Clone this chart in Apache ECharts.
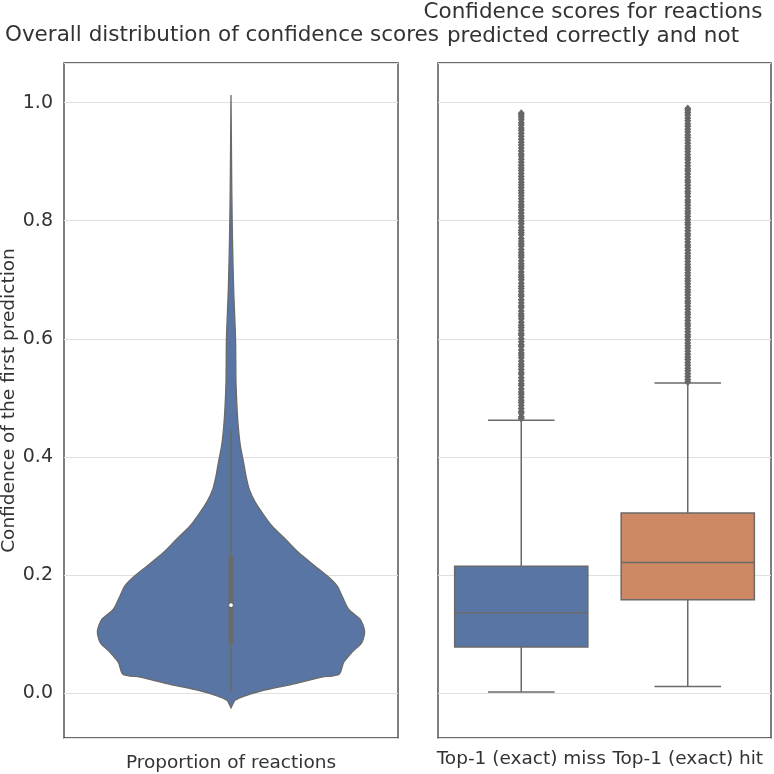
<!DOCTYPE html>
<html><head><meta charset="utf-8">
<script src="https://cdn.jsdelivr.net/npm/echarts@6/dist/echarts.min.js"></script>
<style>html,body{margin:0;padding:0;background:#fff}#c{width:774px;height:774px}</style>
</head><body><div id="c"></div>
<script>
const yTicks = [0, 0.2, 0.4, 0.6, 0.8, 1.0];
const violinValues  = [-0.025,-0.018,-0.012,-0.0045,0.004,0.015,0.027,0.032,0.052,0.069,0.086,0.105,0.125,0.142,0.165,0.182,0.199,0.215,0.238,0.261,0.283,0.306,0.323,0.345,0.368,0.39,0.419,0.447,0.475,0.503,0.53,0.6,0.684,0.768,0.85,0.93,1.013];
const violinDensity = [0,0.015,0.03,0.105,0.23,0.456,0.68,0.81,0.843,0.905,0.98,1.0,0.967,0.88,0.83,0.793,0.718,0.63,0.506,0.406,0.307,0.232,0.182,0.137,0.112,0.095,0.07,0.056,0.047,0.041,0.037,0.034,0.02,0.011,0.006,0.003,0];
const violinStats = [0.001, 0.083, 0.149, 0.233, 0.447];
const boxCategories = ['Top-1 (exact) miss', 'Top-1 (exact) hit'];
const boxMiss = [0.002, 0.078, 0.136, 0.215, 0.462];
const boxHit  = [0.011, 0.158, 0.221, 0.305, 0.525];
const missOutliers = [0.465,0.468,0.474,0.477,0.482,0.487,0.492,0.496,0.501,0.506,0.51,0.515,0.521,0.524,0.529,0.534,0.54,0.543,0.548,0.553,0.557,0.562,0.568,0.572,0.576,0.581,0.587,0.59,0.595,0.6,0.606,0.609,0.614,0.619,0.623,0.628,0.634,0.638,0.642,0.647,0.653,0.656,0.661,0.666,0.672,0.675,0.68,0.685,0.689,0.694,0.7,0.704,0.708,0.713,0.719,0.723,0.727,0.732,0.738,0.742,0.746,0.751,0.757,0.761,0.765,0.77,0.776,0.78,0.784,0.789,0.795,0.799,0.804,0.808,0.813,0.818,0.823,0.827,0.832,0.837,0.842,0.847,0.851,0.856,0.861,0.865,0.87,0.875,0.88,0.885,0.889,0.894,0.899,0.904,0.909,0.913,0.918,0.923,0.928,0.933,0.938,0.943,0.948,0.953,0.957,0.962,0.966,0.971,0.975,0.979,0.982];
const hitOutliers = [0.527,0.531,0.536,0.541,0.546,0.55,0.555,0.56,0.565,0.569,0.574,0.579,0.584,0.588,0.593,0.598,0.603,0.607,0.612,0.617,0.622,0.626,0.631,0.636,0.641,0.645,0.65,0.655,0.66,0.664,0.669,0.674,0.679,0.683,0.688,0.693,0.698,0.702,0.707,0.712,0.717,0.721,0.726,0.731,0.736,0.74,0.745,0.75,0.755,0.759,0.764,0.769,0.774,0.778,0.783,0.788,0.793,0.797,0.802,0.807,0.812,0.816,0.821,0.826,0.831,0.835,0.841,0.846,0.85,0.855,0.86,0.865,0.869,0.874,0.879,0.884,0.888,0.893,0.898,0.903,0.907,0.912,0.917,0.922,0.926,0.931,0.936,0.941,0.945,0.95,0.955,0.96,0.964,0.969,0.974,0.979,0.983,0.987,0.99];

const FONT = 'DejaVu Sans';
const TXT = '#333333';
const LINE = '#6a6a6a';
const BLUE = '#5975a4';
const ORANGE = '#cc8963';
const Y_MIN = -0.076, Y_MAX = 1.067;

const chart = echarts.init(document.getElementById('c'), null, {renderer: 'canvas'});

function yAxisBase(gi, showLabels) {
  return {
    type: 'value', gridIndex: gi, min: Y_MIN, max: Y_MAX, splitNumber: 5,
    axisLine: {show: false}, axisTick: {show: false},
    axisLabel: {show: showLabels, fontFamily: FONT, fontSize: 19, color: TXT, margin: 11,
      showMinLabel: false, showMaxLabel: false,
      formatter: v => yTicks.some(t => Math.abs(t - v) < 1e-6) ? v.toFixed(1) : ''},
    splitLine: {show: true, lineStyle: {color: '#e0e0e0', width: 1}}
  };
}

const option = {
  backgroundColor: '#fff',
  animation: false,
  title: [
    {text: 'Overall distribution of confidence scores', left: 222, top: 24, textAlign: 'center', padding: 0,
     textStyle: {fontFamily: FONT, fontSize: 21.5, fontWeight: 'normal', color: TXT, lineHeight: 23}},
    {text: 'Confidence scores for reactions\npredicted correctly and not', left: 593, top: 0, textAlign: 'center', padding: 0,
     textStyle: {fontFamily: FONT, fontSize: 21.5, fontWeight: 'normal', color: TXT, lineHeight: 24}}
  ],
  grid: [
    {left: 64, top: 63, width: 334, height: 675, show: true, borderColor: '#3a3a3a', borderWidth: 1.3, backgroundColor: '#fff', containLabel: false, outerBoundsMode: 'none'},
    {left: 438, top: 63, width: 333, height: 675, show: true, borderColor: '#3a3a3a', borderWidth: 1.3, backgroundColor: '#fff', containLabel: false, outerBoundsMode: 'none'}
  ],
  xAxis: [
    {type: 'value', gridIndex: 0, min: -0.5, max: 0.5, axisLine: {show: false}, axisTick: {show: false},
     axisLabel: {show: false}, splitLine: {show: false},
     name: 'Proportion of reactions', nameLocation: 'middle', nameGap: 16,
     nameTextStyle: {fontFamily: FONT, fontSize: 18.5, color: TXT}},
    {type: 'category', gridIndex: 1, data: boxCategories, boundaryGap: true,
     axisLine: {show: false}, axisTick: {show: false}, splitLine: {show: false},
     axisLabel: {fontFamily: FONT, fontSize: 18.5, color: TXT, margin: 12, interval: 0}}
  ],
  yAxis: [
    Object.assign(yAxisBase(0, true), {name: 'Confidence of the first prediction', nameLocation: 'middle',
      nameRotate: 90, nameGap: 39, nameTextStyle: {fontFamily: FONT, fontSize: 18.5, color: TXT}}),
    yAxisBase(1, false)
  ],
  series: [
    {
      type: 'custom', xAxisIndex: 0, yAxisIndex: 0, z: 3,
      data: [[0, violinStats[2]]],
      renderItem: function (params, api) {
        const pts = [];
        for (let i = 0; i < violinValues.length; i++) pts.push(api.coord([violinDensity[i] * 0.4, violinValues[i]]));
        for (let i = violinValues.length - 1; i >= 0; i--) pts.push(api.coord([-violinDensity[i] * 0.4, violinValues[i]]));
        const lo = api.coord([0, violinStats[0]]), q1 = api.coord([0, violinStats[1]]),
              md = api.coord([0, violinStats[2]]), q3 = api.coord([0, violinStats[3]]),
              hi = api.coord([0, violinStats[4]]);
        return {type: 'group', children: [
          {type: 'polygon', shape: {points: pts, smooth: 0.25}, style: {fill: BLUE, stroke: LINE, lineWidth: 1.3}},
          {type: 'line', shape: {x1: lo[0], y1: lo[1], x2: hi[0], y2: hi[1]}, style: {stroke: LINE, lineWidth: 1.5}},
          {type: 'rect', shape: {x: q3[0] - 2.5, y: q3[1], width: 5, height: q1[1] - q3[1]}, style: {fill: LINE}},
          {type: 'circle', shape: {cx: md[0], cy: md[1], r: 1.8}, style: {fill: '#fff'}}
        ]};
      }
    },
    {
      type: 'scatter', xAxisIndex: 1, yAxisIndex: 1, z: 2, symbol: 'diamond', symbolSize: [7, 8],
      itemStyle: {color: '#666666', opacity: 1},
      data: missOutliers.map(v => [0, v]).concat(hitOutliers.map(v => [1, v]))
    },
    {
      type: 'custom', xAxisIndex: 1, yAxisIndex: 1, z: 3,
      data: [[0].concat(boxMiss), [1].concat(boxHit)],
      renderItem: function (params, api) {
        const x = api.value(0);
        const band = api.size([1, 0])[0];
        const bw = band * 0.8, cw = bw / 2;
        const p = [1, 2, 3, 4, 5].map(k => api.coord([x, api.value(k)]));
        const cx = p[0][0];
        const fill = params.dataIndex === 0 ? BLUE : ORANGE;
        const ls = {stroke: LINE, lineWidth: 1.5};
        return {type: 'group', children: [
          {type: 'line', shape: {x1: cx, y1: p[0][1], x2: cx, y2: p[1][1]}, style: ls},
          {type: 'line', shape: {x1: cx, y1: p[3][1], x2: cx, y2: p[4][1]}, style: ls},
          {type: 'line', shape: {x1: cx - cw / 2, y1: p[0][1], x2: cx + cw / 2, y2: p[0][1]}, style: ls},
          {type: 'line', shape: {x1: cx - cw / 2, y1: p[4][1], x2: cx + cw / 2, y2: p[4][1]}, style: ls},
          {type: 'rect', shape: {x: cx - bw / 2, y: p[3][1], width: bw, height: p[1][1] - p[3][1]}, style: {fill: fill, stroke: LINE, lineWidth: 1.5}},
          {type: 'line', shape: {x1: cx - bw / 2, y1: p[2][1], x2: cx + bw / 2, y2: p[2][1]}, style: ls}
        ]};
      }
    }
  ]
};
chart.setOption(option);
</script></body></html>
